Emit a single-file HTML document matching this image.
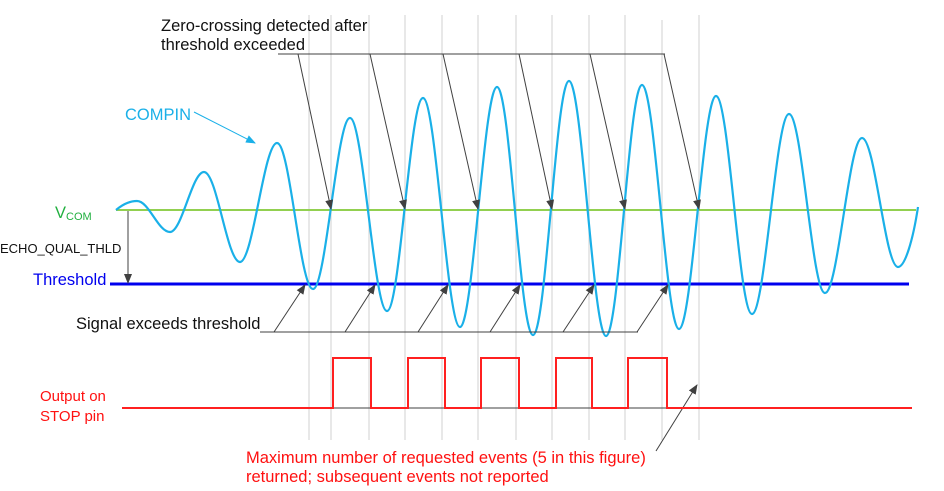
<!DOCTYPE html>
<html><head><meta charset="utf-8"><style>
html,body{margin:0;padding:0;background:#fff;}
svg{display:block;font-family:"Liberation Sans",sans-serif;}
</style></head><body>
<svg width="944" height="491" viewBox="0 0 944 491" xmlns="http://www.w3.org/2000/svg">
<defs>
<marker id="ah" markerWidth="10" markerHeight="8" refX="9" refY="4" orient="auto" markerUnits="userSpaceOnUse"><path d="M0,0 L10,4 L0,8 z" fill="#404040"/></marker>
<marker id="ahc" markerWidth="10" markerHeight="8" refX="9" refY="4" orient="auto" markerUnits="userSpaceOnUse"><path d="M0,0 L10,4 L0,8 z" fill="#1ab0e8"/></marker>
</defs>
<g stroke="#d8d8d8" stroke-width="1.2">
<line x1="309" y1="15" x2="309" y2="440"/><line x1="331" y1="15" x2="331" y2="440"/>
<line x1="369" y1="15" x2="369" y2="440"/><line x1="405" y1="15" x2="405" y2="440"/>
<line x1="442" y1="15" x2="442" y2="440"/><line x1="478" y1="15" x2="478" y2="440"/>
<line x1="516" y1="15" x2="516" y2="440"/><line x1="552" y1="15" x2="552" y2="440"/>
<line x1="589" y1="15" x2="589" y2="440"/><line x1="625" y1="15" x2="625" y2="440"/>
<line x1="662" y1="20" x2="662" y2="440"/><line x1="699" y1="15" x2="699" y2="440"/>
</g>
<line x1="116" y1="210" x2="916" y2="210" stroke="#92d050" stroke-width="2"/>
<line x1="110" y1="284" x2="909" y2="284" stroke="#0000ee" stroke-width="3"/>
<path fill="none" stroke="#1ab0e8" stroke-width="2.2" d="M116,210 C123,204 130,201 137,201 C149,201 158,232 170,232 C182,232 192,172 204,172 C217,172 227,262 240,262 C253,262 264,143 277,143 C290,143 300,289 313,289 C326,289 337,118 350,118 C363,118 374,311 387,311 C400,311 410,98 423,98 C436,98 447,327 460,327 C473,327 484,87 497,87 C510,87 520,335 533,335 C546,335 556,81 569,81 C582,81 593,336 606,336 C619,336 629,85 642,85 C655,85 666,329 679,329 C692,329 703,96 716,96 C729,96 739,314 752,314 C765,314 776,114 789,114 C802,114 812,293 825,293 C838,293 849,138 862,138 C875,138 885,267 898,267 C905,267 913,240 918,207"/>
<g stroke="#404040" stroke-width="1" fill="none">
<line x1="278" y1="54" x2="665" y2="54"/>
<line x1="298" y1="54" x2="331" y2="209" marker-end="url(#ah)"/>
<line x1="370" y1="54" x2="405" y2="209" marker-end="url(#ah)"/>
<line x1="443" y1="54" x2="478" y2="209" marker-end="url(#ah)"/>
<line x1="519" y1="54" x2="552" y2="209" marker-end="url(#ah)"/>
<line x1="590" y1="54" x2="625" y2="209" marker-end="url(#ah)"/>
<line x1="664" y1="54" x2="699" y2="209" marker-end="url(#ah)"/>
<line x1="260" y1="332" x2="638" y2="332"/>
<line x1="274" y1="332" x2="305" y2="285" marker-end="url(#ah)"/>
<line x1="345" y1="332" x2="375" y2="285" marker-end="url(#ah)"/>
<line x1="418" y1="332" x2="448" y2="285" marker-end="url(#ah)"/>
<line x1="490" y1="332" x2="520" y2="285" marker-end="url(#ah)"/>
<line x1="563" y1="332" x2="594" y2="285" marker-end="url(#ah)"/>
<line x1="637" y1="332" x2="668" y2="285" marker-end="url(#ah)"/>
<line x1="128" y1="211" x2="128" y2="283" marker-end="url(#ah)"/>
<line x1="656" y1="451" x2="697" y2="385" marker-end="url(#ah)"/>
<line x1="331" y1="408" x2="667" y2="408"/>
</g>
<line x1="194" y1="112" x2="255" y2="143" stroke="#1ab0e8" stroke-width="1" marker-end="url(#ahc)"/>
<path d="M122,408 H333 V358 H371 V408 H408 V358 H445 V408 H481 V358 H519 V408 H556 V358 H592 V408 H628 V358 H667 V408 H912" fill="none" stroke="#ff2020" stroke-width="2"/>
<g font-size="16.5" fill="#111">
<text x="161" y="31">Zero-crossing detected after</text>
<text x="161" y="50">threshold exceeded</text>
<text x="76" y="329">Signal exceeds threshold</text>
</g>
<text x="125" y="120" font-size="16.5" fill="#1ab0e8">COMPIN</text>
<text x="55" y="218" font-size="16.5" fill="#22b040">V<tspan font-size="11" dy="2">COM</tspan></text>
<text x="0" y="253" font-size="13" fill="#111">ECHO_QUAL_THLD</text>
<text x="33" y="285" font-size="16.5" fill="#0000ee">Threshold</text>
<g font-size="15" fill="#ff1010">
<text x="40" y="401">Output on</text>
<text x="40" y="421">STOP pin</text>
</g>
<g font-size="16.5" fill="#ff1010">
<text x="246" y="463">Maximum number of requested events (5 in this figure)</text>
<text x="246" y="482">returned; subsequent events not reported</text>
</g>
</svg>
</body></html>
